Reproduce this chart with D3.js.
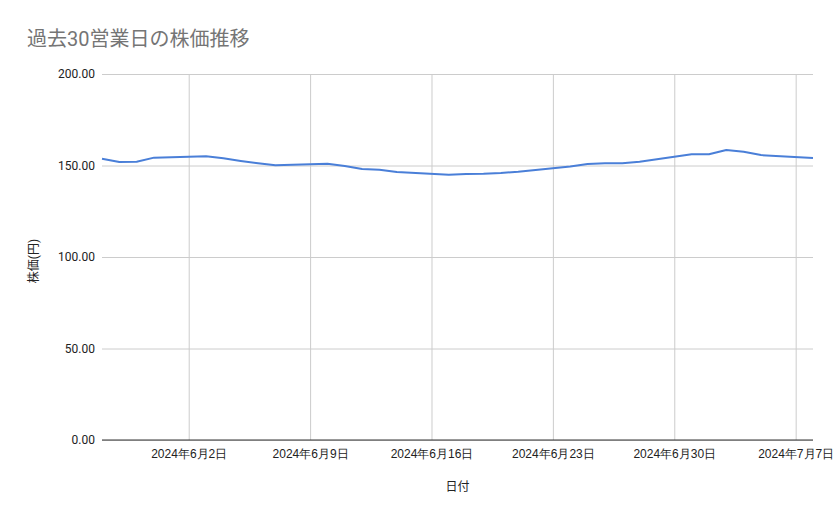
<!DOCTYPE html>
<html>
<head>
<meta charset="utf-8">
<script src="https://cdn.jsdelivr.net/npm/d3@7"></script>
<style>
  body { margin: 0; background: #fff; }
  svg { display: block; font-family: Roboto, "Noto Sans CJK JP", sans-serif; }
</style>
</head>
<body>
<svg width="839" height="519"></svg>
<script>
// Data: closing price on each business day
const dates = [
  "2024-05-28", "2024-05-29", "2024-05-30", "2024-05-31",
  "2024-06-03", "2024-06-04", "2024-06-05", "2024-06-06", "2024-06-07",
  "2024-06-10", "2024-06-11", "2024-06-12", "2024-06-13", "2024-06-14",
  "2024-06-17", "2024-06-18", "2024-06-19", "2024-06-20", "2024-06-21",
  "2024-06-24", "2024-06-25", "2024-06-26", "2024-06-27", "2024-06-28",
  "2024-07-01", "2024-07-02", "2024-07-03", "2024-07-04", "2024-07-05",
  "2024-07-08"
];
const prices = [
  153.7, 151.9, 152.1, 154.3,
  155.0, 153.9, 152.5, 151.2, 150.1,
  151.0, 149.7, 148.1, 147.7, 146.4,
  145.0, 145.4, 145.5, 145.9, 146.6,
  149.4, 150.8, 151.2, 151.2, 152.1,
  156.1, 156.1, 158.5, 157.5, 155.7,
  154.1
];
const xTickDates = ["2024-06-02", "2024-06-09", "2024-06-16", "2024-06-23", "2024-06-30", "2024-07-07"];
const yTicks = [0, 50, 100, 150, 200];

const title = "過去30営業日の株価推移";
const xTitle = "日付";
const yTitle = "株価(円)";

// The svg
let svg = d3.select("svg");
const parse = d3.timeParse("%Y-%m-%d");
const data = dates.map((d, i) => ({date: parse(d), value: prices[i]}));

const margin = {left: 102, right: 26, top: 74, bottom: 79};
const width = +svg.attr("width"), height = +svg.attr("height");

let x = d3.scaleTime()
    .domain([parse(dates[0]), parse(dates[dates.length - 1])])
    .range([margin.left, width - margin.right]);
let y = d3.scaleLinear()
    .domain([0, 200])
    .range([height - margin.bottom, margin.top]);

const fmtDate = d => `${d.getFullYear()}年${d.getMonth() + 1}月${d.getDate()}日`;

// Title
svg.append("text")
    .attr("x", 27).attr("y", 46)
    .attr("font-size", 20)
    .attr("fill", "#757575")
    .text(title);

// Horizontal grid + y labels
svg.append("g")
    .attr("transform", `translate(${margin.left},0)`)
    .call(d3.axisLeft(y).tickValues(yTicks)
        .tickSize(-(width - margin.left - margin.right))
        .tickPadding(7)
        .tickFormat(d3.format(".2f")))
    .call(g => g.select(".domain").remove())
    .call(g => g.selectAll(".tick line").attr("stroke", "#cccccc"))
    .call(g => g.selectAll(".tick text").attr("font-size", 12).attr("fill", "#222")
        .attr("font-family", "Roboto, sans-serif"));

// Vertical grid + x labels
svg.append("g")
    .attr("transform", `translate(0,${height - margin.bottom})`)
    .call(d3.axisBottom(x).tickValues(xTickDates.map(parse))
        .tickSize(-(height - margin.top - margin.bottom))
        .tickPadding(9)
        .tickFormat(fmtDate))
    .call(g => g.select(".domain").remove())
    .call(g => g.selectAll(".tick line").attr("stroke", "#cccccc"))
    .call(g => g.selectAll(".tick text").attr("font-size", 12).attr("fill", "#222"));

// Baseline at zero
svg.append("line")
    .attr("x1", margin.left).attr("x2", width - margin.right)
    .attr("y1", y(0)).attr("y2", y(0))
    .attr("stroke", "#333").attr("stroke-width", 1);

// Price line
svg.append("path")
    .datum(data)
    .attr("fill", "none")
    .attr("stroke", "#4a7fd8")
    .attr("stroke-width", 2)
    .attr("stroke-linejoin", "round")
    .attr("d", d3.line().x(d => x(d.date)).y(d => y(d.value)));

// Axis titles
svg.append("text")
    .attr("x", (margin.left + width - margin.right) / 2).attr("y", 491)
    .attr("text-anchor", "middle")
    .attr("font-size", 12).attr("fill", "#222")
    .text(xTitle);
svg.append("text")
    .attr("transform", "translate(38,261) rotate(-90)")
    .attr("text-anchor", "middle")
    .attr("font-size", 12).attr("fill", "#222")
    .text(yTitle);
</script>
</body>
</html>
